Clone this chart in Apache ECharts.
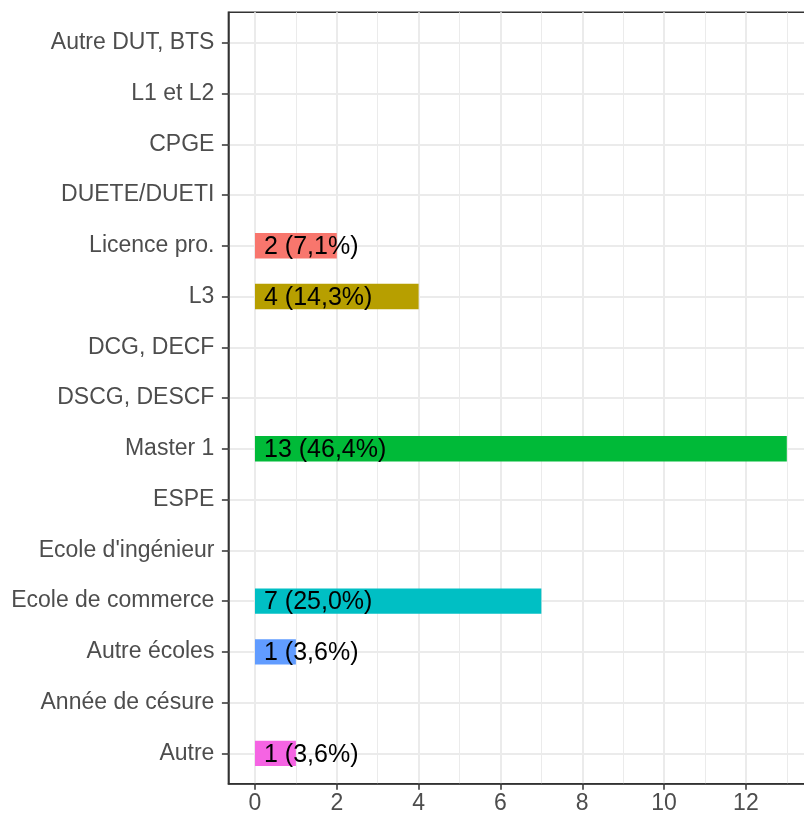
<!DOCTYPE html>
<html>
<head>
<meta charset="utf-8">
<script src="https://cdn.jsdelivr.net/npm/echarts@6/dist/echarts.min.js"></script>
<style>html,body{margin:0;padding:0;background:#fff}#c{width:804px;height:816px}</style>
</head>
<body>
<div id="c"></div>
<script>
// Categories, top to bottom as displayed
const categories = ["Autre DUT, BTS", "L1 et L2", "CPGE", "DUETE/DUETI", "Licence pro.", "L3",
  "DCG, DECF", "DSCG, DESCF", "Master 1", "ESPE", "Ecole d'ingénieur", "Ecole de commerce",
  "Autre écoles", "Année de césure", "Autre"];
const counts = [0, 0, 0, 0, 2, 4, 0, 0, 13, 0, 0, 7, 1, 0, 1];
const xMajorTicks = [0, 2, 4, 6, 8, 10, 12];
const xMinorTicks = [1, 3, 5, 7, 9, 11, 13];

const palette = ["#F8766D", "#B79F00", "#00BA38", "#00BFC4", "#619CFF", "#F564E3"];
const total = counts.reduce((a, b) => a + b, 0);
const yPos = categories.map((c, i) => i + 1);

let ci = 0;
const barData = [];
counts.forEach((v, i) => {
  if (v > 0) {
    barData.push({
      value: [v, yPos[i]],
      itemStyle: { color: palette[ci++] },
      label: v + " (" + (v / total * 100).toFixed(1).replace('.', ',') + "%)"
    });
  }
});

const FONT = "Liberation Sans, Arial, Helvetica, sans-serif";
const AXIS_LINE = { show: true, onZero: false, lineStyle: { color: '#333333', width: 1.5 } };
const chart = echarts.init(document.getElementById('c'), null, { renderer: 'canvas' });
chart.setOption({
  animation: false,
  backgroundColor: '#fff',
  grid: {
    left: 228.4, top: 12.3, width: 585, height: 771.5,
    show: true, borderColor: '#333333', borderWidth: 1.5, backgroundColor: 'transparent',
    outerBoundsMode: 'none'
  },
  xAxis: [{
    type: 'value', min: -0.65, max: 13.65, position: 'bottom',
    axisLine: AXIS_LINE,
    axisTick: { show: true, length: 6, customValues: xMajorTicks, lineStyle: { color: '#333333', width: 1.5 } },
    axisLabel: { customValues: xMajorTicks, color: '#4D4D4D', fontSize: 23, fontFamily: FONT, margin: 8 },
    splitLine: { show: true, lineStyle: { color: '#EBEBEB', width: 2 } }
  }, {
    type: 'value', min: -0.65, max: 13.65, position: 'top',
    axisLine: { show: false, onZero: false },
    axisTick: { show: false, customValues: xMinorTicks },
    axisLabel: { show: false, customValues: xMinorTicks },
    splitLine: { show: true, lineStyle: { color: '#EBEBEB', width: 1 } }
  }],
  yAxis: [{
    type: 'value', min: 0.4, max: 15.6, inverse: true, position: 'left',
    axisLine: AXIS_LINE,
    axisTick: { show: true, length: 6.5, customValues: yPos, lineStyle: { color: '#333333', width: 1.5 } },
    axisLabel: {
      customValues: yPos, color: '#4D4D4D', fontSize: 23, fontFamily: FONT, margin: 14,
      padding: [4, 0, 0, 0],
      formatter: v => categories[Math.round(v) - 1]
    },
    splitLine: { show: true, lineStyle: { color: '#EBEBEB', width: 2 } }
  }],
  series: [{
    type: 'custom',
    xAxisIndex: 0, yAxisIndex: 0,
    data: barData,
    renderItem: function (params, api) {
      const v = api.value(0), y = api.value(1);
      const p0 = api.coord([0, y]);
      const p1 = api.coord([v, y]);
      const h = api.size([0, 0.5])[1];
      const d = barData[params.dataIndex];
      return {
        type: 'group',
        children: [{
          type: 'rect',
          shape: { x: p0[0], y: p0[1] - h / 2, width: p1[0] - p0[0], height: h },
          style: { fill: d.itemStyle.color }
        }, {
          type: 'text',
          z2: 10,
          style: {
            text: d.label, x: p0[0] + 9, y: p0[1] + 1.5,
            verticalAlign: 'middle', align: 'left',
            font: '25px ' + FONT, fill: '#000000'
          }
        }]
      };
    }
  }]
});
</script>
</body>
</html>
